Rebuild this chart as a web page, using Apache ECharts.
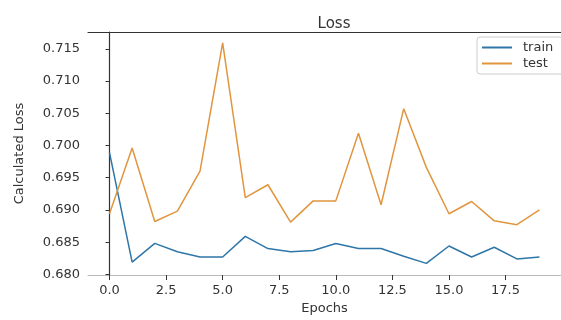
<!DOCTYPE html>
<html><head><meta charset="utf-8">
<script src="https://cdn.jsdelivr.net/npm/echarts@6/dist/echarts.min.js"></script>
<style>html,body{margin:0;padding:0;background:#fff}#c{width:561px;height:320px}</style>
</head><body><div id="c"></div>
<script>
var epochs = [0,1,2,3,4,5,6,7,8,9,10,11,12,13,14,15,16,17,18,19];
var trainLoss = [0.6989,0.6819,0.6848,0.6835,0.6827,0.6827,0.6859,0.6840,0.6835,0.6837,0.6848,0.6840,0.6840,0.6828,0.6817,0.6844,0.6827,0.6842,0.6824,0.6827];
var testLoss = [0.6894,0.6996,0.6882,0.6898,0.6960,0.7159,0.6919,0.6939,0.6881,0.6914,0.6914,0.7019,0.6908,0.7057,0.6966,0.6894,0.6913,0.6883,0.6877,0.6900];
var yTicks = [0.680,0.685,0.690,0.695,0.700,0.705,0.710,0.715];
var xTicks = [0,2.5,5,7.5,10,12.5,15,17.5];

var font = 'DejaVu Sans';
var chart = echarts.init(document.getElementById('c'));
chart.setOption({
  animation:false,
  title:{text:'Loss',left:329,top:12,textAlign:'center',textStyle:{fontFamily:font,fontSize:15,fontWeight:'normal',color:'#333'}},
  legend:{orient:'vertical',left:477,top:37,itemWidth:30,itemHeight:2,itemGap:3,icon:'rect',
    borderColor:'#ccc',borderWidth:1,borderRadius:3,padding:[4,30,4,5],
    textStyle:{fontFamily:font,fontSize:13,color:'#333',padding:[0,0,0,6]},data:['train','test']},
  grid:{left:88,right:-10,top:32,bottom:36},
  xAxis:[{type:'value',min:-0.95,max:19.95,
    name:'Epochs',nameLocation:'middle',nameGap:27,nameTextStyle:{fontFamily:font,fontSize:13,color:'#333'},
    axisLine:{show:true,lineStyle:{color:'#bbb',width:1}},
    axisTick:{show:true,length:5,customValues:xTicks,lineStyle:{color:'#333'}},
    axisLabel:{customValues:xTicks,margin:9,fontFamily:font,fontSize:13,color:'#333',formatter:function(v){return v.toFixed(1);}},
    splitLine:{show:false}},
   {type:'value',position:'top',min:-0.95,max:19.95,axisLine:{show:true,lineStyle:{color:'#333',width:1.2}},
    axisTick:{show:false},axisLabel:{show:false},splitLine:{show:false}}],
  yAxis:{type:'value',min:0.6799,max:0.7176,
    name:'Calculated Loss',nameLocation:'middle',nameGap:62,nameRotate:90,nameTextStyle:{fontFamily:font,fontSize:13,color:'#333'},
    axisLine:{show:true,lineStyle:{color:'#333',width:1.2}},
    axisTick:{show:true,length:4,customValues:yTicks,lineStyle:{color:'#333'}},
    axisLabel:{customValues:yTicks,margin:8,fontFamily:font,fontSize:13,color:'#333',formatter:function(v){return v.toFixed(3);}},
    splitLine:{show:false}},
  series:[
    {name:'train',type:'line',showSymbol:false,symbol:'none',data:epochs.map(function(e,i){return [e,trainLoss[i]];}),
     lineStyle:{color:'#2f76a8',width:1.5},itemStyle:{color:'#2f76a8'}},
    {name:'test',type:'line',showSymbol:false,symbol:'none',data:epochs.map(function(e,i){return [e,testLoss[i]];}),
     lineStyle:{color:'#e0953e',width:1.5},itemStyle:{color:'#e0953e'}}
  ]
});
</script></body></html>
